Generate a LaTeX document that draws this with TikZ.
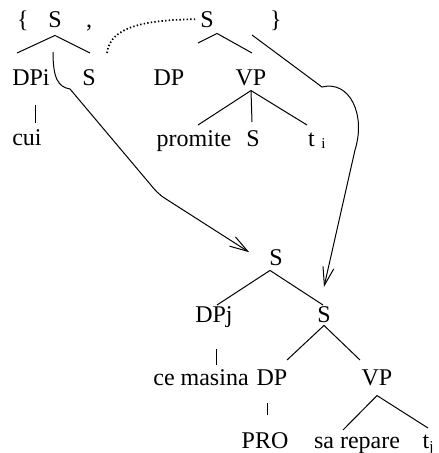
\documentclass[tikz,border=0pt]{standalone}
\usepackage{fontspec}
\setmainfont{Liberation Serif}
\usetikzlibrary{arrows.meta}
\begin{document}
\begin{tikzpicture}[x=1pt,y=-1pt,
  lbl/.style={inner sep=0pt, anchor=base, font=\fontsize{24}{28}\selectfont},
  br/.style={line width=1pt},
  mv/.style={line width=1pt, -{Straight Barb[length=18pt,width=11pt]}},
  dots/.style={line width=1.7pt, dash pattern=on 1.4pt off 2.2pt}
]
\useasboundingbox (0,0) rectangle (439,453);
% top row
\node[lbl] (lb) at (23,27) {\{};
\node[lbl] (S1) at (55,27) {S};
\node[lbl] (cm) at (89,27) {,};
\node[lbl] (S2) at (207,27) {S};
\node[lbl] (rb) at (276,27) {\}};
% second row
\node[lbl] (DPi) at (31,85) {DPi};
\node[lbl] (S1r) at (89,85) {S};
\node[lbl] (DP1) at (169,85) {DP};
\node[lbl] (VP1) at (251,85) {VP};
% third row
\node[lbl] (cui) at (27,145) {cui};
\node[lbl] (prom) at (194,146) {promite};
\node[lbl] (S3) at (253,146) {S};
\node[lbl,anchor=base west] (ti) at (308,146) {t\,\raisebox{-2pt}{\fontsize{15}{15}\selectfont\,i}};
% lower tree
\node[lbl] (S4) at (276,265) {S};
\node[lbl] (DPj) at (214,322) {DPj};
\node[lbl] (S5) at (324,322) {S};
\node[lbl] (cem) at (201,385) {ce masina};
\node[lbl] (DP2) at (272,385) {DP};
\node[lbl] (VP2) at (377,385) {VP};
\node[lbl] (PRO) at (265,448) {PRO};
\node[lbl] (sar) at (357,448) {sa repare};
\node[lbl] (tj) at (428,448) {t\raisebox{-3pt}{\fontsize{15}{15}\selectfont j}};

% branch end coordinates
\coordinate (b1l) at (17,53);
\coordinate (b1r) at (90,53);
\coordinate (b2l) at (198,43);
\coordinate (b2r) at (252,53);
\coordinate (v1a) at (198,125);
\coordinate (v1b) at (252,122);
\coordinate (v1c) at (307,125);
\coordinate (s4l) at (217,305);
\coordinate (s4r) at (323,305);
\coordinate (s5l) at (287,360);
\coordinate (s5r) at (360,360);
\coordinate (v2l) at (343,430);
\coordinate (v2r) at (428,428);

% trees
\draw[br] (b1l) -- ([yshift=-8pt]S1.south) -- (b1r);
\draw[br] (b2l) -- ([shift={(10pt,-6pt)}]S2.south) -- (b2r);
\draw[br] (v1a) -- ([yshift=-5pt]VP1.south) -- (v1c);
\draw[br] ([yshift=-5pt]VP1.south) -- (v1b);
\draw[br] ([yshift=-20pt]DPi.south -| 35,0) -- ([yshift=-38pt]DPi.south -| 35,0);
\draw[br] (s4l) -- ([shift={(-6pt,-5pt)}]S4.south) -- (s4r);
\draw[br] (s5l) -- ([yshift=-3pt]S5.south) -- (s5r);
\draw[br] ([yshift=-22pt]DPj.south -| 216,0) -- ([yshift=-38pt]DPj.south -| 216,0);
\draw[br] ([yshift=-18pt]DP2.south -| 267,0) -- ([yshift=-30pt]DP2.south -| 267,0);
\draw[br] (v2l) -- ([yshift=-10pt]VP2.south) -- (v2r);

% dotted link
\coordinate (d0) at (107,53);
\draw[dots] (d0) .. controls (110,25) and (150,20) .. ([xshift=-4pt]S2.west);

% movement arrows
\coordinate (m1) at (53,52);
\draw[mv] (m1) .. controls (53,78) and (58,87) .. (70,89) -- (150,184)
  .. controls (155,190) and (158,194) .. (166,199) -- ([shift={(-20pt,5pt)}]S4.west);
\coordinate (m2) at (252,35);
\draw[mv] (m2) -- (322,87) .. controls (350,80) and (366,115) .. (355,150)
  -- ([yshift=19pt]S5.north);
\end{tikzpicture}
\end{document}
